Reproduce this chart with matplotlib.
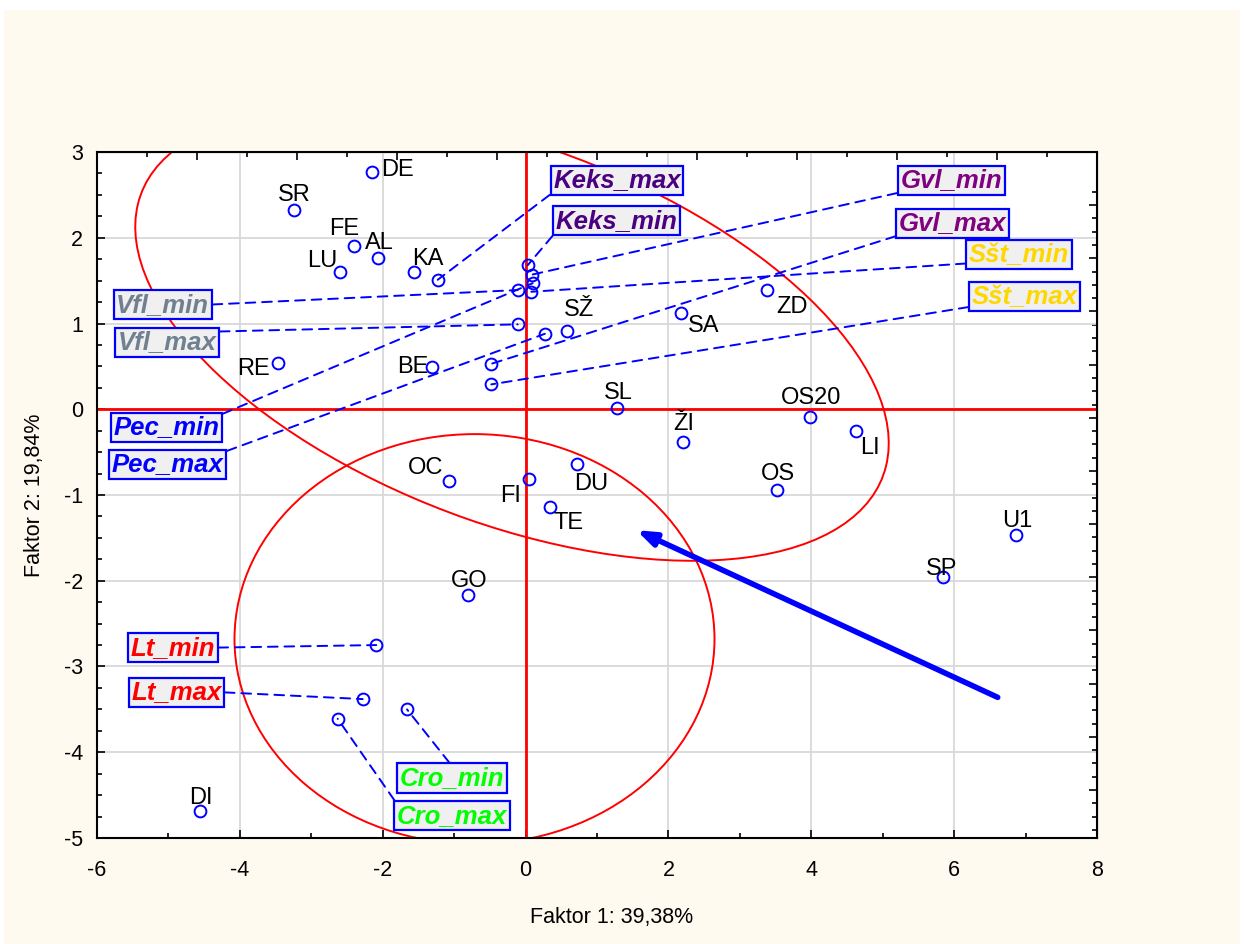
import matplotlib
matplotlib.use("Agg")
import matplotlib.pyplot as plt
import numpy as np
from matplotlib.patches import Ellipse, Rectangle
from matplotlib.ticker import FixedLocator

plt.rcParams["font.family"] = ["Liberation Sans", "DejaVu Sans"]
plt.rcParams["axes.unicode_minus"] = False

# cases (labelled points)
CASE_NAMES = ["DE", "SR", "FE", "AL", "LU", "KA", "RE", "BE", "SŽ", "SA", "ZD", "SL",
              "ŽI", "OS20", "LI", "OS", "U1", "SP", "OC", "FI", "DU", "TE", "GO", "DI"]
CASE_X = [-2.15, -3.24, -2.40, -2.07, -2.60, -1.56, -3.47, -1.31, 0.58, 2.18, 3.38, 1.28,
          2.20, 3.98, 4.63, 3.52, 6.87, 5.84, -1.07, 0.05, 0.72, 0.34, -0.81, -4.56]
CASE_Y = [2.77, 2.32, 1.90, 1.76, 1.60, 1.60, 0.54, 0.49, 0.91, 1.12, 1.39, 0.02,
          -0.38, -0.09, -0.25, -0.94, -1.47, -1.96, -0.84, -0.81, -0.64, -1.14, -2.17, -4.69]

# supplementary variables (boxed labels)
VAR_NAMES = ["Keks_max", "Keks_min", "Gvl_min", "Gvl_max", "Sšt_min", "Sšt_max", "Vfl_min",
             "Vfl_max", "Pec_min", "Pec_max", "Lt_min", "Lt_max", "Cro_min", "Cro_max"]
VAR_X = [-1.23, 0.03, 0.09, -0.48, 0.08, -0.48, -0.11, -0.11, 0.10, 0.27, -2.09, -2.28, -1.66, -2.63]
VAR_Y = [1.51, 1.68, 1.57, 0.53, 1.37, 0.29, 1.39, 0.99, 1.47, 0.88, -2.75, -3.38, -3.50, -3.61]

# confidence ellipses: centre x, centre y, width, height, angle
ELL_CX = [-0.19, -0.715]
ELL_CY = [0.866, -2.68]
ELL_W = [10.91, 6.72]
ELL_H = [4.47, 4.78]
ELL_ANGLE = [-16.25, 0.0]

# direction arrow (from -> to)
ARROW_X = [6.61, 1.55]
ARROW_Y = [-3.36, -1.41]

X_TICKS = [-6, -4, -2, 0, 2, 4, 6, 8]
Y_TICKS = [-5, -4, -3, -2, -1, 0, 1, 2, 3]

VAR_COLORS = {
    "Keks": "#4b0082",
    "Gvl": "#800080",
    "Sšt": "#ffd700",
    "Vfl": "#708090",
    "Pec": "#0000ff",
    "Lt": "#ff0000",
    "Cro": "#00ff00",
}

# layout: boxed label centres (data units) and where the connector leaves the box
VAR_LABEL_POS = {
    "Keks_max": (1.28, 2.67, (0.0, 0.0)),
    "Keks_min": (1.27, 2.20, (0.0, 0.0)),
    "Gvl_min": (5.96, 2.67, (0.0, 0.0)),
    "Gvl_max": (5.98, 2.17, (0.0, 0.0)),
    "Sšt_min": (6.91, 1.80, (0.0, 0.15)),
    "Sšt_max": (6.99, 1.31, (0.0, 0.1)),
    "Vfl_min": (-5.08, 1.22, (1.0, 0.5)),
    "Vfl_max": (-5.02, 0.78, (1.0, 0.95)),
    "Pec_min": (-5.03, -0.21, (1.0, 1.0)),
    "Pec_max": (-5.01, -0.64, (1.0, 1.0)),
    "Lt_min": (-4.94, -2.78, (1.0, 0.5)),
    "Lt_max": (-4.89, -3.30, (1.0, 0.5)),
    "Cro_min": (-1.03, -4.30, (0.5, 1.0)),
    "Cro_max": (-1.03, -4.74, (0.0, 1.0)),
}

# layout: case label offsets from the point, in pixels (centre of text)
CASE_OFFSETS = {
    "DE": (26, 4), "SR": (0, 18), "FE": (-10, 20), "AL": (2, 18), "LU": (-18, 14),
    "KA": (14, 16), "RE": (-24, -4), "BE": (-19, 3), "SŽ": (12, 24), "SA": (22, -10),
    "ZD": (25, -14), "SL": (1, 17), "ŽI": (1, 20), "OS20": (1, 21), "LI": (14, -15),
    "OS": (1, 18), "U1": (1, 17), "SP": (-1, 11), "OC": (-24, 16), "FI": (-19, -15),
    "DU": (14, -17), "TE": (19, -13), "GO": (1, 17), "DI": (1, 16),
}

fig = plt.figure(figsize=(12.44, 9.44), dpi=100, facecolor="white")
fig.patches.append(Rectangle((4 / 1244, 0), 1236 / 1244, 934 / 944, transform=fig.transFigure,
                             facecolor="#fffaf0", edgecolor="none", zorder=-10))

ax = fig.add_axes([0.07797, 0.11229, 0.80386, 0.72669])
ax.set_facecolor("white")
ax.set_xlim(-6, 8)
ax.set_ylim(-5, 3)

ax.set_xticks(X_TICKS)
ax.set_yticks(Y_TICKS)
ax.xaxis.set_minor_locator(FixedLocator(np.arange(-5, 8, 2)))
ax.yaxis.set_minor_locator(FixedLocator(np.arange(-5, 3.01, 0.25)))
ax.tick_params(which="both", direction="in", labelsize=15.5, width=1.2)
ax.tick_params(axis="x", which="major", length=6, pad=16)
ax.tick_params(axis="y", which="major", length=6, pad=10)
ax.tick_params(which="minor", length=3.5)
ax.grid(which="major", color="#d9d9d9", linewidth=1.3, zorder=0)
ax.set_axisbelow(True)
for sp in ax.spines.values():
    sp.set_linewidth(1.5)

sec_top = ax.secondary_xaxis("top")
sec_top.set_xticks(np.arange(-6, 8.01, 1.4))
sec_top.xaxis.set_minor_locator(FixedLocator(np.arange(-5.3, 8, 1.4)))
sec_top.tick_params(which="both", direction="in", labeltop=False, width=1.2)
sec_top.tick_params(which="major", length=6)
sec_top.tick_params(which="minor", length=3.5)

sec_right = ax.secondary_yaxis("right")
sec_right.set_yticks(np.arange(2.38, -5.01, -0.62))
sec_right.yaxis.set_minor_locator(FixedLocator(np.arange(2.38 + 0.155, -5.01, -0.155)))
sec_right.tick_params(which="both", direction="in", labelright=False, width=1.2)
sec_right.tick_params(which="major", length=6)
sec_right.tick_params(which="minor", length=3.5)

ax.axhline(0, color="red", linewidth=2, zorder=2)
ax.axvline(0, color="red", linewidth=2, zorder=2)

for cx, cy, w, h, ang in zip(ELL_CX, ELL_CY, ELL_W, ELL_H, ELL_ANGLE):
    ax.add_patch(Ellipse((cx, cy), w, h, angle=ang, fill=False, edgecolor="red",
                         linewidth=1.4, zorder=2))

ax.annotate("", xy=(ARROW_X[1], ARROW_Y[1]), xytext=(ARROW_X[0], ARROW_Y[0]),
            arrowprops=dict(arrowstyle="-|>,head_length=0.55,head_width=0.2",
                            mutation_scale=20, lw=4, color="#0000ff",
                            shrinkA=0, shrinkB=0), zorder=4)

# boxed variable labels with dashed connectors
for name, vx, vy in zip(VAR_NAMES, VAR_X, VAR_Y):
    lx, ly, rel = VAR_LABEL_POS[name]
    color = VAR_COLORS[name.split("_")[0]]
    ax.annotate(name, xy=(vx, vy), xytext=(lx, ly), ha="center", va="center",
                fontsize=18.5, fontweight="bold", fontstyle="italic", color=color,
                bbox=dict(boxstyle="square,pad=0.1", facecolor="#f0f0f0",
                          edgecolor="#0000ff", linewidth=1.6),
                arrowprops=dict(arrowstyle="-", linestyle=(0, (5, 3.5)), color="#0000ff",
                                lw=1.4, shrinkA=0, shrinkB=0, relpos=rel),
                zorder=5)

ax.plot(VAR_X, VAR_Y, linestyle="none", marker="o", markersize=8.5, markerfacecolor="none",
        markeredgecolor="#0000ff", markeredgewidth=1.4, zorder=6)
ax.plot(CASE_X, CASE_Y, linestyle="none", marker="o", markersize=8.5, markerfacecolor="none",
        markeredgecolor="#0000ff", markeredgewidth=1.4, zorder=6)

for name, cx, cy in zip(CASE_NAMES, CASE_X, CASE_Y):
    dx, dy = CASE_OFFSETS[name]
    ax.annotate(name, xy=(cx, cy), xytext=(dx, dy - 8.5), textcoords="offset pixels",
                ha="center", va="baseline", fontsize=17, color="black", zorder=7)

ax.set_xlabel("Faktor 1: 39,38%", fontsize=15.5)
ax.set_ylabel("Faktor 2: 19,84%", fontsize=15.5)
ax.xaxis.set_label_coords(0.515, -0.100)
ax.yaxis.set_label_coords(-0.052, 0.5)

fig.savefig("out.png", dpi=100, facecolor=fig.get_facecolor())
